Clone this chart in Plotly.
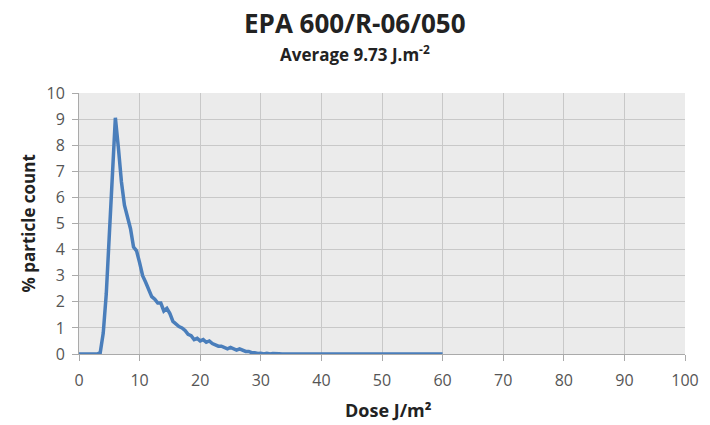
import plotly.graph_objects as go

dose = [i * 0.5 for i in range(121)]
pct = [
    0, 0, 0, 0, 0, 0, 0, 0.05, 0.8, 2.3,          # 0 - 4.5
    4.6, 7.0, 9.05, 7.9, 6.6, 5.7, 5.3, 4.8, 4.1, 3.95,  # 5 - 9.5
    3.5, 3.0, 2.75, 2.5, 2.2, 2.1, 1.95, 1.95, 1.65, 1.75,  # 10 - 14.5
    1.55, 1.25, 1.15, 1.05, 1.0, 0.9, 0.75, 0.7, 0.55, 0.6,  # 15 - 19.5
    0.5, 0.55, 0.45, 0.5, 0.4, 0.35, 0.3, 0.3, 0.25, 0.2,    # 20 - 24.5
    0.25, 0.2, 0.15, 0.2, 0.15, 0.1, 0.1, 0.05, 0.05, 0.02,  # 25 - 29.5
    0.03, 0.0, 0.03, 0.0, 0.02, 0.0, 0.01, 0, 0, 0,          # 30 - 34.5
    0, 0, 0, 0, 0, 0, 0, 0, 0, 0,                            # 35 - 39.5
    0, 0, 0, 0, 0, 0, 0, 0, 0, 0,                            # 40 - 44.5
    0, 0, 0, 0, 0, 0, 0, 0, 0, 0,                            # 45 - 49.5
    0, 0, 0, 0, 0, 0, 0, 0, 0, 0,                            # 50 - 54.5
    0, 0, 0, 0, 0, 0, 0, 0, 0, 0,                            # 55 - 59.5
    0,                                                       # 60
]

title_text = "EPA 600/R-06/050"
subtitle_text = "Average 9.73 J.m<sup>-2</sup>"
x_title = "Dose J/m²"
y_title = "% particle count"

FONT = "Open Sans"

fig = go.Figure()
fig.add_trace(go.Scatter(
    x=dose, y=pct, mode="lines",
    line=dict(color="#4a7ebb", width=3.5),
    showlegend=False,
))

axis_common = dict(
    showgrid=True, gridcolor="#c8c8c8", gridwidth=1,
    zeroline=False, showline=True, linecolor="#aaaaaa",
    ticks="outside", ticklen=6, tickcolor="#aaaaaa",
    tickfont=dict(size=16, color="#555", family=FONT),
)

fig.update_layout(
    width=710, height=425,
    margin=dict(l=79, r=25, t=93, b=71),
    paper_bgcolor="white",
    plot_bgcolor="#ebebeb",
    font=dict(family=FONT, color="#444"),
    xaxis=dict(range=[0, 100], dtick=10, tick0=0, ticklabelstandoff=6, **axis_common),
    yaxis=dict(range=[0, 10], dtick=1, tick0=0, ticklabelstandoff=4, **axis_common),
    annotations=[
        dict(text=f"<b>{title_text}</b>", xref="paper", yref="paper",
             x=0.455, y=1.268, xanchor="center", yanchor="middle", showarrow=False,
             font=dict(size=26, color="#222", family=FONT)),
        dict(text=f"<b>{subtitle_text}</b>", xref="paper", yref="paper",
             x=0.455, y=1.150, xanchor="center", yanchor="middle", showarrow=False,
             font=dict(size=17, color="#222", family=FONT)),
        dict(text=f"<b>{x_title}</b>", xref="paper", yref="paper",
             x=0.51, y=-0.215, xanchor="center", yanchor="middle", showarrow=False,
             font=dict(size=18, color="#222", family=FONT)),
        dict(text=f"<b>{y_title}</b>", xref="paper", yref="paper",
             x=-0.084, y=0.5, xanchor="center", yanchor="middle", showarrow=False,
             textangle=-90, font=dict(size=17, color="#222", family=FONT)),
    ],
)

fig.write_html("out.html")
